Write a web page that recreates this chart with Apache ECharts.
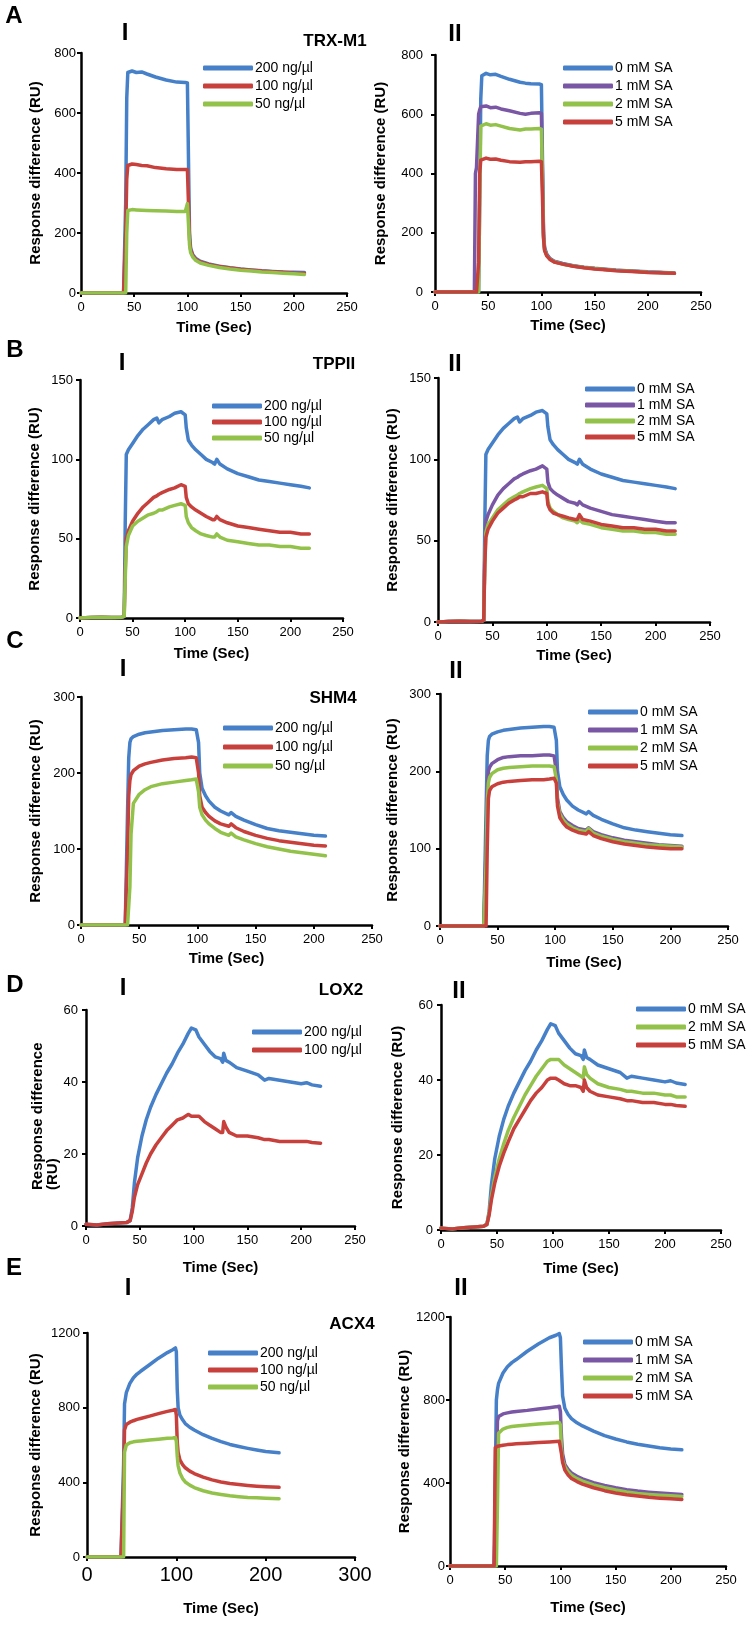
<!DOCTYPE html>
<html><head><meta charset="utf-8">
<script src="https://cdn.jsdelivr.net/npm/echarts@6/dist/echarts.min.js"></script>
<style>html,body{margin:0;padding:0;background:#fff}#c{width:756px;height:1629px}</style>
</head><body><div id="c"></div>
<script>
// ---------- tick labels ----------
const xTicks250 = [0, 50, 100, 150, 200, 250];
const xTicks300 = [0, 100, 200, 300];
const yTicksA = [0, 200, 400, 600, 800];
const yTicksB = [0, 50, 100, 150];
const yTicksC = [0, 100, 200, 300];
const yTicksD = [0, 20, 40, 60];
const yTicksE = [0, 400, 800, 1200];

// ---------- legend names ----------
const concNames = ['200 ng/µl', '100 ng/µl', '50 ng/µl'];
const saNames = ['0 mM SA', '1 mM SA', '2 mM SA', '5 mM SA'];
const saNamesD = ['0 mM SA', '2 mM SA', '5 mM SA'];

// ---------- A: TRX-M1 ----------
const tA1 = [0, 40, 41, 42, 43, 44, 48, 52, 57, 62, 70, 80, 90, 98, 100, 101, 102, 103, 105, 108, 112, 120, 130, 140, 150, 160, 170, 180, 190, 200, 210];
const a1Blue = [0, 0, 0, 300, 650, 735, 740, 735, 737, 730, 720, 710, 703, 702, 700, 450, 200, 150, 128, 115, 106, 97, 89, 84, 80, 77, 74, 72, 70, 69, 68];
const a1Red = [0, 0, 0, 200, 380, 425, 430, 428, 425, 424, 418, 414, 412, 412, 412, 300, 180, 145, 125, 112, 104, 95, 88, 83, 79, 76, 73, 71, 69, 67, 66];
const a1Green = [0, 0, 0, 0, 200, 275, 278, 277, 276, 275, 274, 273, 272, 272, 298, 230, 160, 135, 120, 108, 100, 92, 85, 80, 76, 73, 70, 68, 66, 64, 62];

const tA2 = [0, 37, 38, 39, 41, 42, 43, 44, 48, 52, 57, 62, 70, 80, 85, 90, 98, 100, 101, 102, 103, 105, 108, 112, 120, 130, 140, 150, 160, 170, 180, 190, 200, 210, 225];
const a2Blue = [0, 0, 0, 0, 0, 300, 650, 730, 738, 733, 735, 728, 718, 708, 705, 703, 702, 700, 450, 200, 150, 128, 113, 104, 96, 89, 84, 80, 77, 74, 72, 70, 68, 67, 64];
const a2Purple = [0, 0, 400, 420, 600, 615, 625, 625, 628, 622, 624, 618, 612, 603, 600, 603, 605, 603, 400, 190, 145, 125, 112, 103, 95, 88, 83, 79, 76, 73, 71, 69, 67, 66, 63];
const a2Green = [0, 0, 0, 0, 0, 300, 560, 565, 568, 563, 565, 560, 552, 547, 550, 550, 552, 550, 380, 185, 142, 123, 111, 102, 94, 88, 83, 79, 76, 73, 71, 69, 67, 66, 63];
const a2Red = [0, 0, 0, 0, 100, 400, 445, 450, 452, 448, 449, 445, 440, 438, 440, 440, 441, 440, 320, 180, 140, 122, 110, 101, 94, 87, 82, 78, 75, 72, 70, 68, 66, 65, 63];

// ---------- B: TPPII ----------
const tB = [0, 10, 20, 30, 40, 42, 43, 44, 46, 50, 55, 60, 65, 70, 73, 75, 78, 85, 90, 96, 100, 101, 103, 106, 110, 115, 120, 126, 128, 130, 133, 140, 150, 160, 170, 180, 190, 200, 210, 218];
const b1Blue = [0, 0.3, 0.5, 0.3, 0.5, 1, 60, 103, 106, 110, 115, 119, 122, 125, 126, 123, 125, 127, 129, 130, 128, 120, 112, 109, 106, 103, 100, 98, 97, 100, 97, 94, 91, 89, 87, 86, 85, 84, 83, 82];
const b1Red = [0, 0.3, 0.5, 0.3, 0.5, 1, 30, 50, 55, 61, 66, 70, 73, 76, 77, 78, 79, 81, 82, 84, 83, 76, 72, 70, 68, 66, 64, 62, 62, 64, 62, 60, 58, 57, 56, 55, 54, 54, 53, 53];
const b1Green = [0, 0.3, 0.5, 0.3, 0.5, 1, 25, 45, 52, 58, 61, 63, 65, 66, 67, 68, 68, 70, 71, 72, 71, 64, 60, 57, 55, 53, 52, 51, 51, 53, 51, 49, 48, 47, 46, 46, 45, 45, 44, 44];
const b2Blue = [0, 0.3, 0.5, 0.3, 0.5, 1, 60, 103, 106, 110, 115, 119, 122, 125, 126, 123, 125, 127, 129, 130, 128, 120, 112, 109, 106, 103, 100, 98, 97, 100, 97, 94, 91, 89, 87, 86, 85, 84, 83, 82];
const b2Purple = [0, 0.3, 0.5, 0.3, 0.5, 1, 40, 62, 66, 72, 78, 82, 85, 88, 89, 90, 91, 93, 94, 96, 94, 86, 82, 80, 78, 76, 74, 73, 72, 74, 72, 70, 68, 66, 65, 64, 63, 62, 61, 61];
const b2Green = [0, 0.3, 0.5, 0.3, 0.5, 1, 35, 55, 60, 64, 69, 72, 75, 77, 78, 79, 80, 82, 83, 84, 82, 74, 70, 68, 66, 64, 63, 62, 61, 63, 61, 60, 58, 57, 56, 56, 55, 55, 54, 54];
const b2Red = [0, 0.3, 0.5, 0.3, 0.5, 1, 35, 52, 57, 62, 67, 70, 73, 75, 76, 77, 77, 79, 79, 80, 79, 72, 69, 67, 66, 65, 64, 63, 63, 66, 63, 62, 60, 59, 58, 58, 57, 57, 56, 56];

// ---------- C: SHM4 ----------
const tC = [0, 36, 38, 40, 41, 42, 43, 45, 50, 55, 60, 70, 80, 90, 95, 99, 100, 101, 102, 104, 107, 110, 115, 120, 127, 129, 133, 140, 150, 160, 170, 180, 190, 200, 210];
const c1Blue = [0, 0, 0, 150, 220, 240, 245, 248, 251, 253, 254, 256, 257, 258, 258, 257, 256, 240, 200, 180, 170, 163, 155, 150, 145, 148, 143, 138, 132, 127, 124, 122, 120, 118, 117];
const c1Red = [0, 0, 0, 100, 170, 190, 198, 203, 209, 212, 214, 217, 219, 220, 221, 220, 218, 200, 170, 155, 148, 143, 137, 133, 130, 133, 128, 123, 118, 114, 111, 109, 107, 105, 104];
const c1Green = [0, 0, 0, 0, 0, 50, 120, 160, 172, 178, 182, 186, 188, 190, 191, 192, 190, 175, 155, 145, 138, 133, 127, 122, 118, 121, 116, 112, 107, 103, 100, 97, 95, 93, 91];
const c2Blue = [0, 0, 0, 150, 220, 240, 245, 248, 251, 253, 254, 256, 257, 258, 258, 257, 256, 240, 200, 180, 170, 163, 155, 150, 145, 148, 143, 138, 132, 127, 124, 122, 120, 118, 117];
const c2Purple = [0, 0, 0, 100, 180, 200, 205, 210, 215, 218, 219, 220, 220, 221, 221, 220, 218, 200, 165, 148, 140, 135, 130, 126, 124, 127, 122, 118, 114, 111, 109, 107, 105, 104, 103];
const c2Green = [0, 0, 0, 80, 160, 185, 192, 197, 202, 204, 205, 206, 207, 207, 207, 206, 205, 190, 160, 145, 137, 132, 127, 124, 122, 126, 120, 116, 112, 109, 107, 105, 104, 103, 102];
const c2Red = [0, 0, 0, 0, 100, 165, 175, 180, 184, 186, 187, 188, 189, 189, 190, 191, 192, 185, 155, 140, 133, 128, 124, 121, 119, 122, 117, 113, 109, 106, 104, 102, 101, 100, 100];

// ---------- D: LOX2 ----------
const tD = [0, 10, 20, 30, 38, 41, 42, 43, 45, 48, 52, 56, 60, 65, 70, 75, 80, 85, 90, 95, 98, 102, 105, 110, 115, 120, 125, 127, 128, 130, 133, 140, 150, 160, 166, 170, 180, 190, 200, 205, 210, 218];
const d1Blue = [0.5, 0.3, 0.6, 0.8, 1, 1.5, 2, 5, 12, 19, 25, 29.5, 33, 36.5, 39.5, 42.5, 45, 48, 50.5, 53.5, 55, 54.5, 52.5, 50.5, 48.5, 47, 46.5, 45.5, 48, 46, 45.5, 44, 43, 42, 40.5, 41, 40.5, 40, 39.5, 39.8, 39.2, 38.8];
const d1Red = [0.5, 0.3, 0.6, 0.8, 1, 1.5, 2, 4, 8, 11.5, 14.5, 17.5, 20, 22.5, 24.5, 26.5, 28, 29.5, 30, 31, 30.5, 30.5, 30.5, 29, 28, 27, 26, 26, 29, 27.5, 26, 25, 25, 24.5, 24, 24, 23.5, 23.5, 23.5, 23.5, 23.2, 23];
const d2Blue = [0.5, 0.3, 0.6, 0.8, 1, 1.5, 2, 5, 12, 19, 25, 29.5, 33, 36.5, 39.5, 42.5, 45, 48, 50.5, 53.5, 55, 54.5, 52.5, 50.5, 48.5, 47, 46.5, 45.5, 48, 46, 45.5, 44, 43, 42, 40.5, 41, 40.5, 40, 39.5, 39.8, 39.2, 38.8];
const d2Green = [0.5, 0.3, 0.6, 0.8, 1, 1.5, 2, 4.5, 9, 14, 19, 23, 26.5, 30, 33, 36, 38.5, 41, 43, 45, 45.5, 45.5, 45.5, 44, 43, 42, 41, 40.5, 43.5, 41.5, 40.5, 39, 38, 37.5, 37, 37, 36.5, 36.5, 36, 36, 35.5, 35.5];
const d2Red = [0.5, 0.3, 0.6, 0.8, 1, 1.5, 2, 4, 8, 12.5, 17, 20.5, 23.5, 27, 29.5, 32, 34.5, 36.5, 38, 40, 40.5, 40.5, 40, 39, 38.5, 38.5, 38, 37, 40, 38, 37, 36, 35.5, 35, 34.5, 34.5, 34, 34, 33.5, 33.5, 33.2, 33];

// ---------- E: ACX4 ----------
const tE1 = [0, 38, 40, 41, 42, 44, 48, 52, 56, 60, 70, 80, 90, 96, 99, 100, 101, 102, 104, 107, 110, 115, 120, 130, 140, 150, 160, 170, 180, 190, 200, 215];
const e1Blue = [0, 0, 0, 500, 820, 880, 930, 960, 980, 995, 1030, 1065, 1095, 1110, 1120, 1100, 900, 800, 760, 735, 715, 695, 680, 655, 635, 618, 603, 592, 582, 573, 565, 558];
const e1Red = [0, 0, 0, 400, 680, 710, 722, 730, 737, 742, 755, 768, 780, 786, 790, 760, 620, 560, 520, 495, 478, 460, 447, 428, 413, 402, 394, 388, 383, 379, 376, 373];
const e1Green = [0, 0, 0, 0, 560, 600, 612, 617, 620, 622, 627, 631, 636, 638, 640, 620, 540, 490, 450, 420, 402, 385, 372, 355, 343, 335, 328, 323, 319, 317, 315, 312];

const tE2 = [0, 38, 40, 41, 42, 43, 44, 48, 52, 56, 60, 70, 80, 90, 96, 99, 100, 101, 102, 104, 107, 110, 115, 120, 130, 140, 150, 160, 170, 180, 190, 200, 210];
const e2Blue = [0, 0, 0, 400, 800, 850, 880, 930, 960, 980, 995, 1035, 1070, 1100, 1112, 1120, 1100, 950, 820, 760, 730, 710, 690, 675, 650, 628, 612, 598, 587, 578, 570, 564, 560];
const e2Purple = [0, 0, 0, 0, 400, 700, 720, 733, 738, 742, 745, 750, 757, 763, 767, 770, 745, 620, 540, 490, 465, 448, 432, 420, 402, 388, 377, 368, 361, 356, 352, 348, 345];
const e2Green = [0, 0, 0, 0, 0, 300, 640, 660, 668, 672, 675, 680, 684, 688, 690, 692, 680, 560, 510, 478, 453, 437, 421, 409, 391, 377, 366, 357, 350, 345, 341, 338, 335];
const e2Red = [0, 0, 0, 570, 575, 577, 578, 582, 585, 587, 589, 592, 595, 598, 600, 601, 600, 540, 500, 462, 438, 422, 407, 395, 377, 363, 352, 343, 337, 331, 327, 324, 321];

// ---------- styling ----------
const BLUE = '#4680C8', RED = '#C8403C', GREEN = '#92C24A', PURPLE = '#7A57A4';
const FONT = 'Liberation Sans, Arial, sans-serif';

const panels = [
  { grid: {left: 81, top: 53, width: 266, height: 240}, xTicks: xTicks250, yTicks: yTicksA, t: tA1,
    series: [[concNames[0], BLUE, a1Blue], [concNames[1], RED, a1Red], [concNames[2], GREEN, a1Green]],
    legend: {left: 203, top: 61, gap: 4}, yLM: 5, yNG: 38, xNG: 27, xFS: 13 },
  { grid: {left: 435, top: 55, width: 266, height: 237}, xTicks: xTicks250, yTicks: yTicksA, t: tA2,
    series: [[saNames[0], BLUE, a2Blue], [saNames[1], PURPLE, a2Purple], [saNames[2], GREEN, a2Green], [saNames[3], RED, a2Red]],
    legend: {left: 563, top: 61, gap: 4}, yLM: 12, yNG: 47, xNG: 26, xFS: 13 },
  { grid: {left: 80, top: 380, width: 263, height: 238}, xTicks: xTicks250, yTicks: yTicksB, t: tB,
    series: [[concNames[0], BLUE, b1Blue], [concNames[1], RED, b1Red], [concNames[2], GREEN, b1Green]],
    legend: {left: 212, top: 399, gap: 2}, yLM: 7, yNG: 38, xNG: 28, xFS: 13 },
  { grid: {left: 438, top: 378, width: 272, height: 244}, xTicks: xTicks250, yTicks: yTicksB, t: tB,
    series: [[saNames[0], BLUE, b2Blue], [saNames[1], PURPLE, b2Purple], [saNames[2], GREEN, b2Green], [saNames[3], RED, b2Red]],
    legend: {left: 585, top: 382, gap: 2}, yLM: 7, yNG: 38, xNG: 26, xFS: 13 },
  { grid: {left: 81, top: 697, width: 291, height: 228}, xTicks: xTicks250, yTicks: yTicksC, t: tC,
    series: [[concNames[0], BLUE, c1Blue], [concNames[1], RED, c1Red], [concNames[2], GREEN, c1Green]],
    legend: {left: 223, top: 721, gap: 5}, yLM: 6, yNG: 38, xNG: 26, xFS: 13 },
  { grid: {left: 440, top: 694, width: 288, height: 232}, xTicks: xTicks250, yTicks: yTicksC, t: tC,
    series: [[saNames[0], BLUE, c2Blue], [saNames[1], PURPLE, c2Purple], [saNames[2], GREEN, c2Green], [saNames[3], RED, c2Red]],
    legend: {left: 588, top: 705, gap: 4}, yLM: 9, yNG: 40, xNG: 29, xFS: 13 },
  { grid: {left: 86, top: 1010, width: 269, height: 216}, xTicks: xTicks250, yTicks: yTicksD, t: tD,
    series: [[concNames[0], BLUE, d1Blue], [concNames[1], RED, d1Red]],
    legend: {left: 252, top: 1025, gap: 4}, yLM: 8, yNG: -1, xNG: 34, xFS: 13 },
  { grid: {left: 441, top: 1005, width: 280, height: 225}, xTicks: xTicks250, yTicks: yTicksD, t: tD,
    series: [[saNamesD[0], BLUE, d2Blue], [saNamesD[1], GREEN, d2Green], [saNamesD[2], RED, d2Red]],
    legend: {left: 636, top: 1002, gap: 4}, yLM: 8, yNG: 36, xNG: 31, xFS: 13 },
  { grid: {left: 87, top: 1333, width: 268, height: 224}, xTicks: xTicks300, yTicks: yTicksE, t: tE1,
    series: [[concNames[0], BLUE, e1Blue], [concNames[1], RED, e1Red], [concNames[2], GREEN, e1Green]],
    legend: {left: 208, top: 1346, gap: 3}, yLM: 7, yNG: 44, xNG: 44, xFS: 20 },
  { grid: {left: 450, top: 1317, width: 276, height: 249}, xTicks: xTicks250, yTicks: yTicksE, t: tE2,
    series: [[saNames[0], BLUE, e2Blue], [saNames[1], PURPLE, e2Purple], [saNames[2], GREEN, e2Green], [saNames[3], RED, e2Red]],
    legend: {left: 583, top: 1335, gap: 4}, yLM: 5, yNG: 36, xNG: 34, xFS: 13 }
];

const headings = [
  ['A', 14, 16, 24], ['B', 15, 350, 24], ['C', 15, 641, 24], ['D', 15, 985, 24], ['E', 14, 1268, 24],
  ['I', 125, 33, 24], ['II', 455, 34, 24], ['TRX-M1', 335, 41, 17],
  ['I', 122, 363, 24], ['II', 455, 364, 24], ['TPPII', 334, 364, 17],
  ['I', 123, 669, 24], ['II', 456, 671, 24], ['SHM4', 333, 698, 17],
  ['I', 123, 988, 24], ['II', 459, 991, 24], ['LOX2', 341, 990, 17],
  ['I', 128, 1288, 24], ['II', 461, 1288, 24], ['ACX4', 352, 1324, 17]
];

const plain = v => String(v);

const option = {
  animation: false,
  textStyle: {fontFamily: FONT},
  grid: panels.map(p => Object.assign({containLabel: false}, p.grid)),
  xAxis: panels.map((p, i) => ({
    type: 'value', gridIndex: i,
    min: p.xTicks[0], max: p.xTicks[p.xTicks.length - 1], interval: p.xTicks[1] - p.xTicks[0],
    name: 'Time (Sec)', nameLocation: 'middle', nameGap: p.xNG,
    nameTextStyle: {fontWeight: 'bold', fontSize: 15, color: '#000', fontFamily: FONT},
    axisLine: {onZero: false, lineStyle: {color: '#000', width: 2.5}},
    axisTick: {show: true, length: 4, lineStyle: {color: '#000', width: 2}},
    axisLabel: {color: '#000', fontSize: p.xFS, margin: 8, fontFamily: FONT, formatter: plain},
    splitLine: {show: false}
  })),
  yAxis: panels.map((p, i) => ({
    type: 'value', gridIndex: i,
    min: p.yTicks[0], max: p.yTicks[p.yTicks.length - 1], interval: p.yTicks[1] - p.yTicks[0],
    name: p.yNG < 0 ? '' : 'Response difference (RU)', nameLocation: 'middle', nameGap: Math.max(p.yNG, 0),
    nameTextStyle: {fontWeight: 'bold', fontSize: 15, color: '#000', fontFamily: FONT},
    axisLine: {show: true, onZero: false, lineStyle: {color: '#000', width: 2.5}},
    axisTick: {show: true, length: 4, lineStyle: {color: '#000', width: 2}},
    axisLabel: {color: '#000', fontSize: 13, margin: p.yLM, fontFamily: FONT, formatter: plain},
    splitLine: {show: false}
  })),
  legend: panels.map(p => ({
    data: p.series.map(s => s[0]), orient: 'vertical', left: p.legend.left, top: p.legend.top,
    itemWidth: 50, itemHeight: 5, itemGap: p.legend.gap, icon: 'roundRect', padding: 0,
    selectedMode: false, textStyle: {fontSize: 14, color: '#000', fontFamily: FONT, padding: [0, 0, 0, -3]}
  })),
  series: [],
  graphic: headings.map(h => ({
    type: 'text', x: h[1], y: h[2],
    style: {text: h[0], font: 'bold ' + h[3] + 'px ' + FONT, fill: '#000', align: 'center', verticalAlign: 'middle'}
  })).concat([
    {type: 'text', x: 38, y: 1190, rotation: Math.PI / 2,
     style: {text: 'Response difference', font: 'bold 15px ' + FONT, fill: '#000', align: 'left', verticalAlign: 'middle'}},
    {type: 'text', x: 53, y: 1190, rotation: Math.PI / 2,
     style: {text: '(RU)', font: 'bold 15px ' + FONT, fill: '#000', align: 'left', verticalAlign: 'middle'}}
  ])
};

panels.forEach((p, i) => {
  p.series.forEach(s => {
    option.series.push({
      type: 'line', name: s[0], xAxisIndex: i, yAxisIndex: i,
      data: p.t.map((x, k) => [x, s[2][k]]),
      showSymbol: false, symbol: 'none', silent: true,
      lineStyle: {width: 3.5, color: s[1], cap: 'round', join: 'round'}, itemStyle: {color: s[1]}
    });
  });
});

const chart = echarts.init(document.getElementById('c'), null, {renderer: 'canvas'});
chart.setOption(option);
</script></body></html>
